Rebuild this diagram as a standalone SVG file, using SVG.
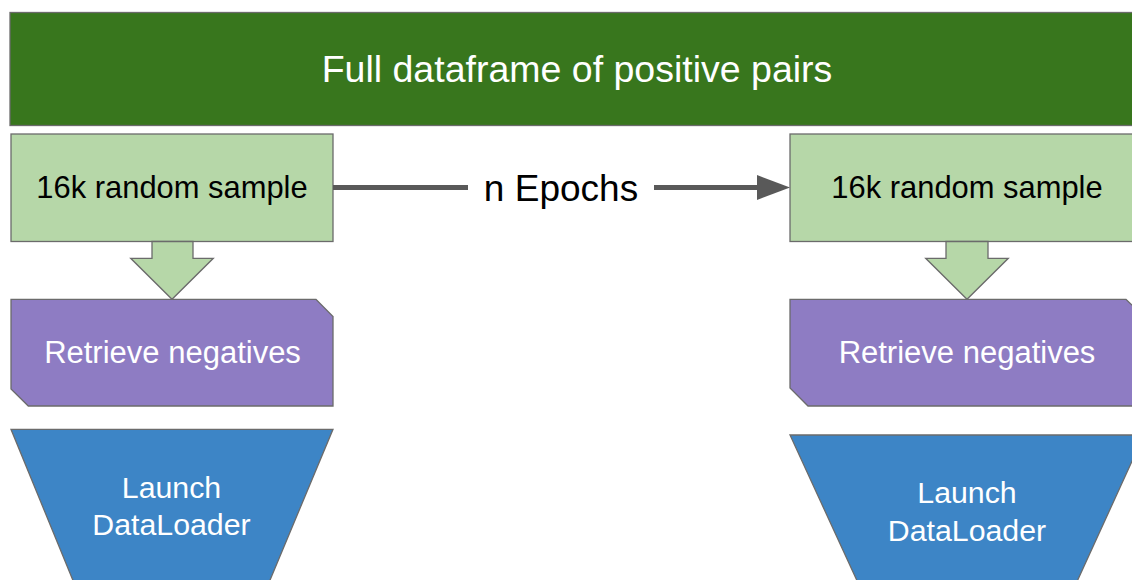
<svg xmlns="http://www.w3.org/2000/svg" width="1132" height="580" viewBox="0 0 1132 580">
  <style>
    .lbl { font-family: "Liberation Sans", Arial, sans-serif; text-anchor: middle; }
    .outline { stroke: #6b6b6b; stroke-width: 1.3; }
    .banner { fill: #38761d; }
    .sample { fill: #b6d7a8; }
    .negatives { fill: #8e7cc3; }
    .loader { fill: #3d85c6; }
    .dark { fill: #000000; }
    .light { fill: #ffffff; }
    .link { stroke: #595959; stroke-width: 5; fill: none; }
  </style>
  <rect width="1132" height="580" fill="#ffffff"/>

  <!-- top banner -->
  <g id="full-dataframe">
    <rect class="banner outline" x="10" y="12.5" width="1135" height="113"/>
    <text class="lbl light" x="577" y="82" font-size="37.5">Full dataframe of positive pairs</text>
  </g>

  <!-- left column -->
  <g id="sample-left">
    <rect class="sample outline" x="11" y="134" width="322" height="107.5"/>
    <text class="lbl dark" x="172" y="197.5" font-size="30.9">16k random sample</text>
  </g>
  <g id="down-left">
    <polygon class="sample outline" points="152,241.5 193,241.5 193,258.3 213.3,258.3 172,299.3 130.7,258.3 152,258.3"/>
  </g>
  <g id="negatives-left">
    <polygon class="negatives outline" points="11,299.3 316,299.3 333,316.5 333,406 28.3,406 11,389"/>
    <text class="lbl light" x="172.5" y="363.3" font-size="31">Retrieve negatives</text>
  </g>
  <g id="loader-left">
    <polygon class="loader outline" points="11,429.3 333,429.3 261.7,600 81,600"/>
    <text class="lbl light" x="171.5" y="498" font-size="30.3">Launch</text>
    <text class="lbl light" x="171.5" y="535" font-size="30.3">DataLoader</text>
  </g>

  <!-- right column -->
  <g id="sample-right">
    <rect class="sample outline" x="790" y="134" width="354" height="107.5"/>
    <text class="lbl dark" x="967" y="197.5" font-size="30.9">16k random sample</text>
  </g>
  <g id="down-right">
    <polygon class="sample outline" points="946,241.5 988,241.5 988,258.3 1008.3,258.3 967,299.3 925.7,258.3 946,258.3"/>
  </g>
  <g id="negatives-right">
    <polygon class="negatives outline" points="790,299.3 1126,299.3 1144,317 1144,406 808,406 790,388"/>
    <text class="lbl light" x="967" y="362.8" font-size="31">Retrieve negatives</text>
  </g>
  <g id="loader-right">
    <polygon class="loader outline" points="790,435 1144,435 1068.6,600 865.9,600"/>
    <text class="lbl light" x="967" y="503" font-size="30.3">Launch</text>
    <text class="lbl light" x="967" y="540.5" font-size="30.3">DataLoader</text>
  </g>

  <!-- connectors -->
  <g id="connectors">
    <line class="link" x1="333" y1="187.5" x2="468" y2="187.5"/>
    <line class="link" x1="654" y1="187.5" x2="758" y2="187.5"/>
    <polygon points="757,175 790,187.5 757,200" fill="#595959"/>
    <text class="lbl dark" x="561" y="200.5" font-size="37">n Epochs</text>
  </g>
</svg>
